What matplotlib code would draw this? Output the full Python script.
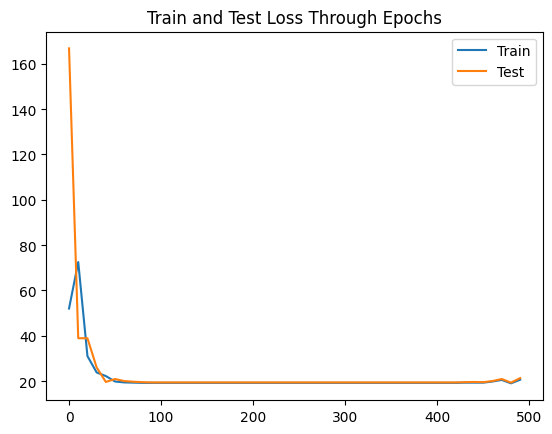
import matplotlib
matplotlib.use("Agg")
import matplotlib.pyplot as plt

EPOCHS = list(range(0, 500, 10))

TRAIN_LOSS = [52.0, 72.5, 31.0, 23.8, 22.2, 19.8, 19.4, 19.3, 19.2, 19.2,
              19.2, 19.2, 19.2, 19.2, 19.2, 19.2, 19.2, 19.2, 19.2, 19.2,
              19.2, 19.2, 19.2, 19.2, 19.2, 19.2, 19.2, 19.2, 19.2, 19.2,
              19.2, 19.2, 19.2, 19.2, 19.2, 19.2, 19.2, 19.2, 19.2, 19.2,
              19.2, 19.2, 19.2, 19.3, 19.3, 19.3, 19.8, 20.5, 19.0, 20.6]

TEST_LOSS = [166.8, 38.9, 38.9, 26.0, 19.6, 20.9, 20.0, 19.7, 19.5, 19.4,
             19.4, 19.4, 19.4, 19.4, 19.4, 19.4, 19.4, 19.4, 19.4, 19.4,
             19.4, 19.4, 19.4, 19.4, 19.4, 19.4, 19.4, 19.4, 19.4, 19.4,
             19.4, 19.4, 19.4, 19.4, 19.4, 19.4, 19.4, 19.4, 19.4, 19.4,
             19.4, 19.4, 19.4, 19.5, 19.6, 19.5, 20.0, 20.9, 19.3, 21.3]

fig, ax = plt.subplots(figsize=(5.52, 4.35), dpi=100)
fig.subplots_adjust(left=0.0842, right=0.9832, bottom=0.078, top=0.925)

ax.plot(EPOCHS, TRAIN_LOSS, label="Train")
ax.plot(EPOCHS, TEST_LOSS, label="Test")
ax.set_title("Train and Test Loss Through Epochs")
ax.legend()

fig.savefig("out.png")
